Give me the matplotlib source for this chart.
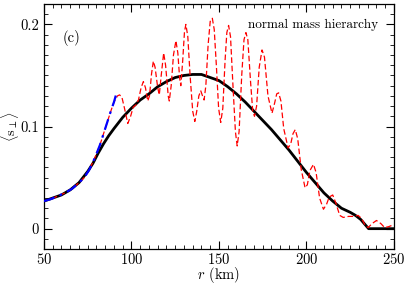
import matplotlib
matplotlib.use("Agg")
import matplotlib.pyplot as plt
from matplotlib.ticker import MultipleLocator

plt.rcParams['font.family'] = 'cmr10'
plt.rcParams['mathtext.fontset'] = 'cm'
plt.rcParams['axes.formatter.use_mathtext'] = True

# Black solid curve
r_black = [50, 55, 60, 65, 70, 75, 78, 81, 84, 87, 90, 95, 100, 105, 110, 115, 120, 125, 130,
           135, 140, 145, 150, 155, 160, 165, 170, 175, 180, 185, 190, 195, 200, 205,
           210, 215, 220, 225, 228, 231, 233.5, 235.5, 240, 250]
s_black = [0.027, 0.030, 0.033, 0.038, 0.045, 0.056, 0.064, 0.074, 0.083, 0.091, 0.098,
           0.109, 0.118, 0.126, 0.132, 0.139, 0.144, 0.148, 0.150, 0.151, 0.151, 0.148,
           0.145, 0.139, 0.132, 0.124, 0.115, 0.106, 0.097, 0.087, 0.077, 0.066, 0.055,
           0.045, 0.035, 0.027, 0.020, 0.016, 0.013, 0.009, 0.004, 0.0, 0.0, 0.0]

# Red dashed curve
r_red = [50, 54, 58, 62, 66, 70, 73, 76, 79, 82, 85, 88, 90, 92, 93.2, 94.5, 96, 97.9,
         99.5, 101, 102.5, 104, 105.5, 106.8, 108, 109.3, 110.3, 111.5, 112.5, 113.5, 115,
         115.9, 117, 118.4, 119.5, 121, 121.6, 122.7, 124, 125.4, 126.5, 127.5, 128.2,
         129.3, 130.3, 131.1, 132.2, 133.5, 135, 136.2, 137.3, 138.5, 139.6, 140.6, 141.5,
         142.5, 143.8, 145, 146.2, 147.3, 148.5, 149.8, 151, 152.2, 153.5, 154.5, 155.5,
         156.6, 158, 159.4, 160.4, 161.5, 163, 164.3, 165.4, 166.5, 168, 169.3, 170.3,
         171.5, 173, 174.6, 176, 178, 180.3, 181.8, 183, 184.1, 185.4, 187, 189.5, 191,
         192.3, 193.6, 195, 197, 199.2, 200.5, 202, 204, 205.5, 207.5, 209.7, 211.5, 213,
         215, 216.8, 219, 221, 224, 227, 229.5, 231.5, 233.3, 235.2, 237.5, 240, 242.5,
         244.7, 247, 250]
s_red = [0.027, 0.029, 0.032, 0.035, 0.039, 0.045, 0.050, 0.058, 0.069, 0.082, 0.098,
         0.114, 0.124, 0.130, 0.131, 0.129, 0.118, 0.103, 0.110, 0.119, 0.121, 0.126,
         0.138, 0.144, 0.138, 0.125, 0.130, 0.152, 0.164, 0.158, 0.138, 0.131, 0.150,
         0.172, 0.160, 0.130, 0.125, 0.140, 0.170, 0.184, 0.172, 0.148, 0.140, 0.165,
         0.193, 0.200, 0.188, 0.150, 0.115, 0.105, 0.115, 0.130, 0.135, 0.130, 0.126,
         0.140, 0.180, 0.203, 0.206, 0.195, 0.160, 0.118, 0.104, 0.118, 0.165, 0.192,
         0.199, 0.188, 0.140, 0.095, 0.081, 0.095, 0.150, 0.185, 0.192, 0.185, 0.145,
         0.115, 0.110, 0.120, 0.158, 0.175, 0.168, 0.130, 0.113, 0.123, 0.132, 0.133,
         0.125, 0.098, 0.079, 0.083, 0.093, 0.097, 0.088, 0.058, 0.040, 0.043, 0.057,
         0.063, 0.055, 0.030, 0.019, 0.024, 0.031, 0.033, 0.025, 0.013, 0.011, 0.012,
         0.012, 0.013, 0.010, 0.004, 0.001, 0.005, 0.008, 0.005, 0.001, 0.002, 0.004]

# Blue dash-dot curve
r_blue = [50, 54, 58, 62, 66, 70, 73, 76, 79, 82, 85, 88, 90, 91.5]
s_blue = [0.027, 0.029, 0.032, 0.035, 0.039, 0.045, 0.050, 0.058, 0.069, 0.082, 0.098,
          0.114, 0.124, 0.133]

x_ticks = [50, 100, 150, 200, 250]
y_ticks = [0, 0.1, 0.2]
y_tick_labels = ['0', '0.1', '0.2']

fig = plt.figure(figsize=(4.07, 2.85), dpi=100)
ax = fig.add_axes([0.108, 0.126, 0.860, 0.860])

ax.plot(r_black, s_black, color='black', lw=2.0, zorder=2)
ax.plot(r_red, s_red, color='red', lw=0.9, dashes=(4.5, 2.2), zorder=3)
ax.plot(r_blue, s_blue, color='blue', lw=1.6, dashes=(5, 2.5, 1.2, 2.5), zorder=4)

ax.set_xlim(50, 250)
ax.set_ylim(-0.02, 0.22)
ax.set_xticks(x_ticks)
ax.set_yticks(y_ticks)
ax.set_yticklabels(y_tick_labels)
ax.xaxis.set_minor_locator(MultipleLocator(5))
ax.yaxis.set_minor_locator(MultipleLocator(0.01))
ax.tick_params(which='both', direction='in', top=True, right=True, labelsize=10.5)
ax.tick_params(which='major', length=6, width=0.8)
ax.tick_params(which='minor', length=3, width=0.6)
ax.tick_params(axis='x', pad=2)
for sp in ax.spines.values():
    sp.set_linewidth(0.9)

ax.set_xlabel(r'$r$ (km)', fontsize=10.5, labelpad=-1)
ax.set_ylabel(r'$\langle \mathrm{s}_\perp\rangle$', fontsize=10)
ax.yaxis.set_label_coords(-0.066, 0.5)
ax.text(0.054, 0.845, '(c)', transform=ax.transAxes, fontsize=10.5)
ax.text(0.954, 0.902, 'normal mass hierarchy', transform=ax.transAxes, fontsize=9.5,
        ha='right')

fig.savefig('out.png', dpi=100)
